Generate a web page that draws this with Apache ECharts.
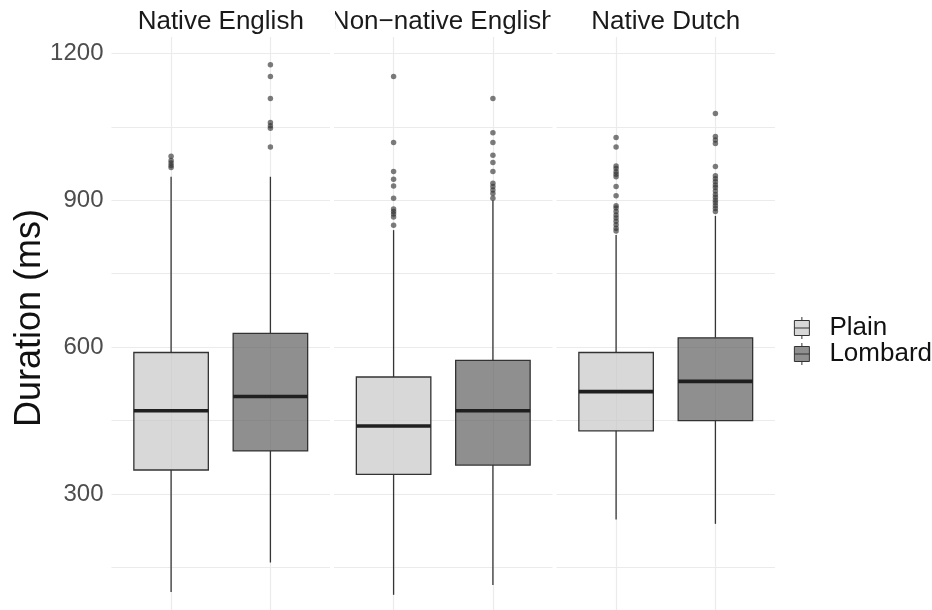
<!DOCTYPE html>
<html>
<head>
<meta charset="utf-8">
<script src="https://cdn.jsdelivr.net/npm/echarts@6/dist/echarts.min.js"></script>
<style>
  html, body { margin: 0; padding: 0; background: #fff; }
  #chart { width: 932px; height: 610px; }
</style>
</head>
<body>
<div id="chart"></div>
<script>
// Facets (speaker groups) and the two speaking conditions
const facets = ['Native English', 'Non\u2212native English', 'Native Dutch'];
const conditions = ['Plain', 'Lombard'];

// Box summaries per facet: [lower whisker, Q1, median, Q3, upper whisker] in ms
const plainStats = [
  [100, 349, 470, 589, 948],
  [94, 340, 439, 539, 839],
  [248, 429, 509, 589, 829]
];
const lombardStats = [
  [160, 388, 499, 628, 948],
  [114, 359, 470, 573, 900],
  [239, 450, 530, 619, 868]
];

// Outlying durations per facet (ms)
const plainOutliers = [
  [990, 981, 976, 971, 967],
  [1153, 1018, 959, 943, 929, 904, 882, 877, 872, 866, 849],
  [1028, 1009, 970, 965, 958, 953, 948, 928, 909, 889, 884, 877, 870, 864, 857, 850, 843, 837]
];
const lombardOutliers = [
  [1177, 1153, 1108, 1059, 1052, 1047, 1009],
  [1108, 1038, 1018, 992, 977, 959, 935, 928, 921, 914, 904],
  [1077, 1030, 1023, 1016, 969, 950, 944, 938, 931, 926, 919, 912, 906, 900, 895, 889, 883, 877]
];

// Gridline positions and labelled y ticks
const yGridValues = [150, 300, 450, 600, 750, 900, 1050, 1200];
const yTickLabels = [300, 600, 900, 1200];

const FONT = '"Liberation Sans", Arial, sans-serif';
const GRID_COLOR = '#ebebeb';
const FILL = { Plain: 'rgba(200,200,200,0.7)', Lombard: 'rgba(95,95,95,0.7)' };

const panelLeft = [111.5, 334, 556.5];
const panelWidth = 218.5;
const panelTop = 37;
const yMin = 63;
const yMax = 1233.5;

function renderBox(params, api) {
  const x = api.value(0);
  const half = api.size([0.75, 0])[0] / 2;
  const pLow = api.coord([x, api.value(1)]);
  const pQ1 = api.coord([x, api.value(2)]);
  const pMed = api.coord([x, api.value(3)]);
  const pQ3 = api.coord([x, api.value(4)]);
  const pHigh = api.coord([x, api.value(5)]);
  const whisker = { stroke: '#353535', lineWidth: 1.3 };
  return {
    type: 'group',
    children: [
      { type: 'line', shape: { x1: pLow[0], y1: pLow[1], x2: pQ1[0], y2: pQ1[1] }, style: whisker },
      { type: 'line', shape: { x1: pQ3[0], y1: pQ3[1], x2: pHigh[0], y2: pHigh[1] }, style: whisker },
      { type: 'rect', shape: { x: pQ3[0] - half, y: pQ3[1], width: half * 2, height: pQ1[1] - pQ3[1] },
        style: { fill: api.visual('color'), stroke: '#333', lineWidth: 1.3 } },
      { type: 'line', shape: { x1: pMed[0] - half, y1: pMed[1], x2: pMed[0] + half, y2: pMed[1] },
        style: { stroke: '#1f1f1f', lineWidth: 3.6 } }
    ]
  };
}

const grids = [], xAxes = [], yAxes = [], series = [];
facets.forEach((f, i) => {
  grids.push({ left: panelLeft[i], top: panelTop, width: panelWidth, bottom: 0 });
  xAxes.push({
    gridIndex: i, type: 'value', min: 0.4, max: 2.6,
    axisLine: { show: false },
    axisTick: { show: false, customValues: [1, 2] },
    axisLabel: { show: false },
    splitLine: { show: true, lineStyle: { color: GRID_COLOR, width: 1.2 } }
  });
  yAxes.push({
    gridIndex: i, type: 'value', min: yMin, max: yMax,
    axisLine: { show: false },
    axisTick: { show: false, customValues: yGridValues },
    axisLabel: {
      show: i === 0, margin: 8, fontSize: 24, fontFamily: FONT, color: '#4d4d4d',
      customValues: yTickLabels,
      formatter: v => String(v)
    },
    splitLine: { show: true, lineStyle: { color: GRID_COLOR, width: 1.2 } }
  });
  conditions.forEach((c, k) => {
    const stats = (k === 0 ? plainStats : lombardStats)[i];
    const outs = (k === 0 ? plainOutliers : lombardOutliers)[i];
    series.push({
      name: c, type: 'custom', xAxisIndex: i, yAxisIndex: i,
      itemStyle: { color: FILL[c] },
      encode: { x: 0, y: [1, 2, 3, 4, 5] },
      renderItem: renderBox,
      data: [[k + 1].concat(stats)],
      z: 3
    });
    series.push({
      name: c, type: 'scatter', xAxisIndex: i, yAxisIndex: i,
      symbolSize: 5.5,
      itemStyle: { color: 'rgba(50,50,50,0.8)' },
      data: outs.map(v => [k + 1, v]),
      z: 4
    });
  });
});

const boxIcon = 'path://M7.5,0V3.5M0,3.5H15V18.5H0ZM0,11H15M7.5,18.5V22';

const option = {
  animation: false,
  backgroundColor: '#fff',
  title: facets.map((f, i) => ({
    text: f,
    left: panelLeft[i] + panelWidth / 2,
    textAlign: 'center',
    top: 9,
    padding: 0,
    textStyle: { fontSize: 26, fontWeight: 'normal', fontFamily: FONT, color: '#1a1a1a' }
  })),
  legend: {
    orient: 'vertical',
    right: 0, top: 315, padding: 0,
    itemWidth: 45, itemHeight: 22, itemGap: 0,
    selectedMode: false,
    textStyle: { fontSize: 26, fontFamily: FONT, color: '#111', lineHeight: 24 },
    data: conditions.map(c => ({
      name: c, icon: boxIcon,
      itemStyle: { color: FILL[c], borderColor: '#333', borderWidth: 1 }
    }))
  },
  grid: grids,
  xAxis: xAxes,
  yAxis: yAxes,
  series: series,
  graphic: {
    elements: [
      {
        type: 'text', x: 30, y: 318, rotation: Math.PI / 2, z: 100,
        style: {
          text: 'Duration (ms)', font: '36px ' + FONT, fill: '#111',
          textAlign: 'center', textVerticalAlign: 'middle', align: 'center', verticalAlign: 'middle'
        }
      },
      // strip boundaries: facet labels are cut at the edges of their own strip
      { type: 'rect', z: 100, shape: { x: 306, y: 0, width: 29, height: 36 }, style: { fill: '#fff' } },
      { type: 'rect', z: 100, shape: { x: 550.5, y: 0, width: 34, height: 36 }, style: { fill: '#fff' } }
    ]
  }
};

const chart = echarts.init(document.getElementById('chart'), null, { renderer: 'canvas' });
chart.setOption(option);
</script>
</body>
</html>
